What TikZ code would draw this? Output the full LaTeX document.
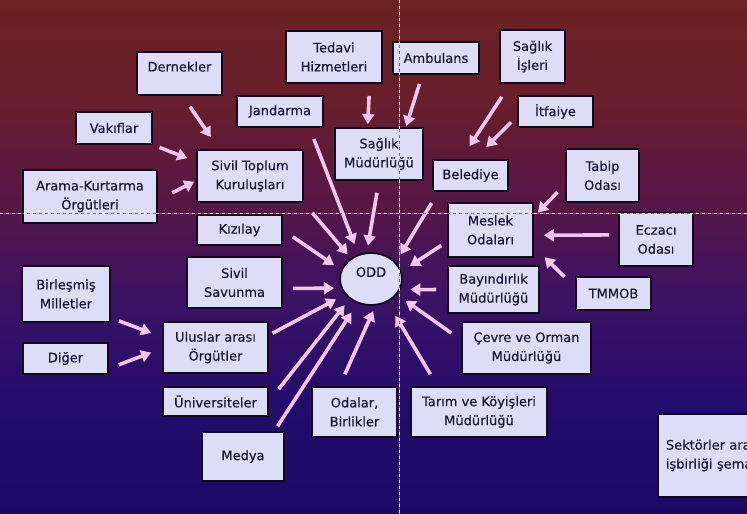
\documentclass[tikz,border=0pt]{standalone}
\usepackage{fontspec}
\setmainfont{DejaVu Sans}
\newfontfamily\boxfont{DejaVu Sans}[FakeBold=0.5]
\usetikzlibrary{arrows.meta,shapes.geometric}

\definecolor{boxfill}{HTML}{DDDDF7}
\definecolor{boxline}{HTML}{120A1C}
\definecolor{boxtext}{HTML}{18183A}
\definecolor{arrowpink}{HTML}{F2C6EE}
\definecolor{bgA}{HTML}{6C2222}
\definecolor{bgB}{HTML}{681E2C}
\definecolor{bgC}{HTML}{581646}
\definecolor{bgD}{HTML}{3C1264}
\definecolor{bgE}{HTML}{240C6C}
\definecolor{bgF}{HTML}{1A0A68}

\pgfdeclareverticalshading{dusk}{100bp}{color(0bp)=(bgF); color(25bp)=(bgF);
    color(36bp)=(bgE); color(46bp)=(bgD); color(55.5bp)=(bgC);
    color(65bp)=(bgB); color(75bp)=(bgA); color(100bp)=(bgA)}

\tikzstyle{unit}=[draw=boxline,line width=1.8pt,fill=boxfill,text=boxtext,
    align=center,inner sep=2.5pt,font=\boxfont\fontsize{13}{19}\selectfont]
\tikzstyle{hub}=[unit,ellipse,minimum width=62pt,minimum height=52pt,
    text depth=14pt]
\tikzstyle{feed}=[->,>={Triangle[length=10pt,width=12pt]},line width=3.6pt,
    draw=arrowpink]
\tikzstyle{guide}=[line width=0.9pt,dash pattern=on 3pt off 3pt]

\newcommand{\unitbox}[6][]{
    \node[unit,minimum width=#4pt,minimum height=#5pt,#1] (#2) at (#3) {#6};
}
\newcommand{\feed}[5][]{\draw[feed,shorten <=#4pt,shorten >=#5pt,#1] (#2)--(#3);}

\begin{document}
\begin{tikzpicture}[x=1pt,y=-1pt]
    \path[use as bounding box] (0,0) rectangle (747,514);
    \clip (0,0) rectangle (747,514);
    \shade[shading=dusk] (0,0) rectangle (747,514);
    %
    \unitbox[text depth=14pt]{dern}{179.5,73.5}{85}{43}{Dernekler}
    \unitbox{vakif}{114,128}{76}{32}{Vakıflar}
    \unitbox{arama}{90,196.5}{134}{53}{Arama-Kurtarma\\Örgütleri}
    \unitbox{sivil}{250,176}{106}{52}{Sivil Toplum\\Kuruluşları}
    \unitbox{jand}{280,111.5}{86}{31}{Jandarma}
    \unitbox{tedavi}{334,57}{96}{52}{Tedavi\\Hizmetleri}
    \unitbox{ambu}{436,58}{86}{32}{Ambulans}
    \unitbox{saglik}{379,154}{88}{52}{Sağlık\\Müdürlüğü}
    \unitbox{beled}{470.5,175.5}{75}{31}{Belediye}
    \unitbox{isleri}{532.5,56.5}{65}{53}{Sağlık\\İşleri}
    \unitbox{itfa}{555.5,111.5}{75}{31}{İtfaiye}
    \unitbox{tabip}{602.5,175.5}{73}{53}{Tabip\\Odası}
    \unitbox{meslek}{490.5,230}{85}{54}{Meslek\\Odaları}
    \unitbox{eczaci}{656,239.5}{74}{53}{Eczacı\\Odası}
    \unitbox{tmmob}{613.5,293.5}{75}{33}{TMMOB}
    \unitbox{bayin}{493.5,289.5}{91}{47}{Bayındırlık\\Müdürlüğü}
    \unitbox{cevre}{526.5,348}{129}{52}{Çevre ve Orman\\Müdürlüğü}
    \unitbox{tarim}{479,412}{136}{50}{Tarım ve Köyişleri\\Müdürlüğü}
    \unitbox{odalar}{354.5,412}{85}{50}{Odalar,\\Birlikler}
    \unitbox{medya}{243,456.5}{82}{49}{Medya}
    \unitbox{univ}{215.5,401.5}{105}{29}{Üniversiteler}
    \unitbox{ulus}{215.5,347.5}{105}{51}{Uluslar arası\\Örgütler}
    \unitbox{savun}{234.5,282.5}{95}{51}{Sivil\\Savunma}
    \unitbox{kizil}{239.5,230}{85}{30}{Kızılay}
    \unitbox{bm}{66,294}{88}{56}{Birleşmiş\\Milletler}
    \unitbox{diger}{65.5,358.5}{85}{31}{Diğer}
    \node[unit,anchor=west,minimum width=150pt,minimum height=83pt,
        text width=134pt,align=left,inner xsep=8pt] (sektor) at (657,455.5)
        {Sektörler arası\\işbirliği şeması};
    \node[hub] (odd) at (371,279) {ODD};
    %
    \feed{jand.-29}{odd.117}{12}{11}
    \feed{sivil.south east}{odd.134}{13}{5}
    \feed{kizil.east}{odd.163}{12}{8.5}
    \feed{savun.-7}{odd.197}{10}{7}
    \feed{ulus.13}{odd.211}{4}{10}
    \feed{univ.east}{odd.223}{16}{8}
    \feed{medya.39}{odd.241}{6}{11}
    \feed{odalar.120}{odd.-80}{13}{6}
    \feed{tarim.148}{odd.-55}{14}{16}
    \feed{cevre.173}{odd.-31}{12}{10.5}
    \feed{bayin.west}{odd.-20}{11}{10}
    \feed{meslek.195}{odd.14}{7}{10}
    \feed{beled.207}{odd.34}{13}{9}
    \feed{saglik.south}{odd.99}{12}{7}
    %
    \feed{dern.-82}{sivil.139}{13}{14.5}
    \feed{vakif.south east}{sivil.165}{7}{9.5}
    \feed{arama.-3}{sivil.185}{16}{2}
    \feed{bm.-28}{ulus.169}{8.6}{11.8}
    \feed{diger.-13}{ulus.181}{10.6}{11.7}
    \feed{tedavi.-37}{saglik.113}{12}{3}
    \feed{ambu.231}{saglik.45}{9.5}{1}
    \feed{isleri.231}{beled.120}{15.5}{15.5}
    \feed{itfa.187}{beled.77}{8.5}{17}
    \feed{tabip.193}{meslek.17}{11}{5.7}
    \feed{eczaci.173}{meslek.-7}{9}{10}
    \feed{tmmob.171}{meslek.-21}{15}{15}
    %
    \draw[guide,white] (0,213) -- (747,213);
    \draw[guide,black!55,dash phase=3pt] (0,213) -- (747,213);
    \draw[guide,white] (399,0) -- (399,514);
    \draw[guide,black!55,dash phase=3pt] (399,0) -- (399,514);
\end{tikzpicture}
\end{document}
